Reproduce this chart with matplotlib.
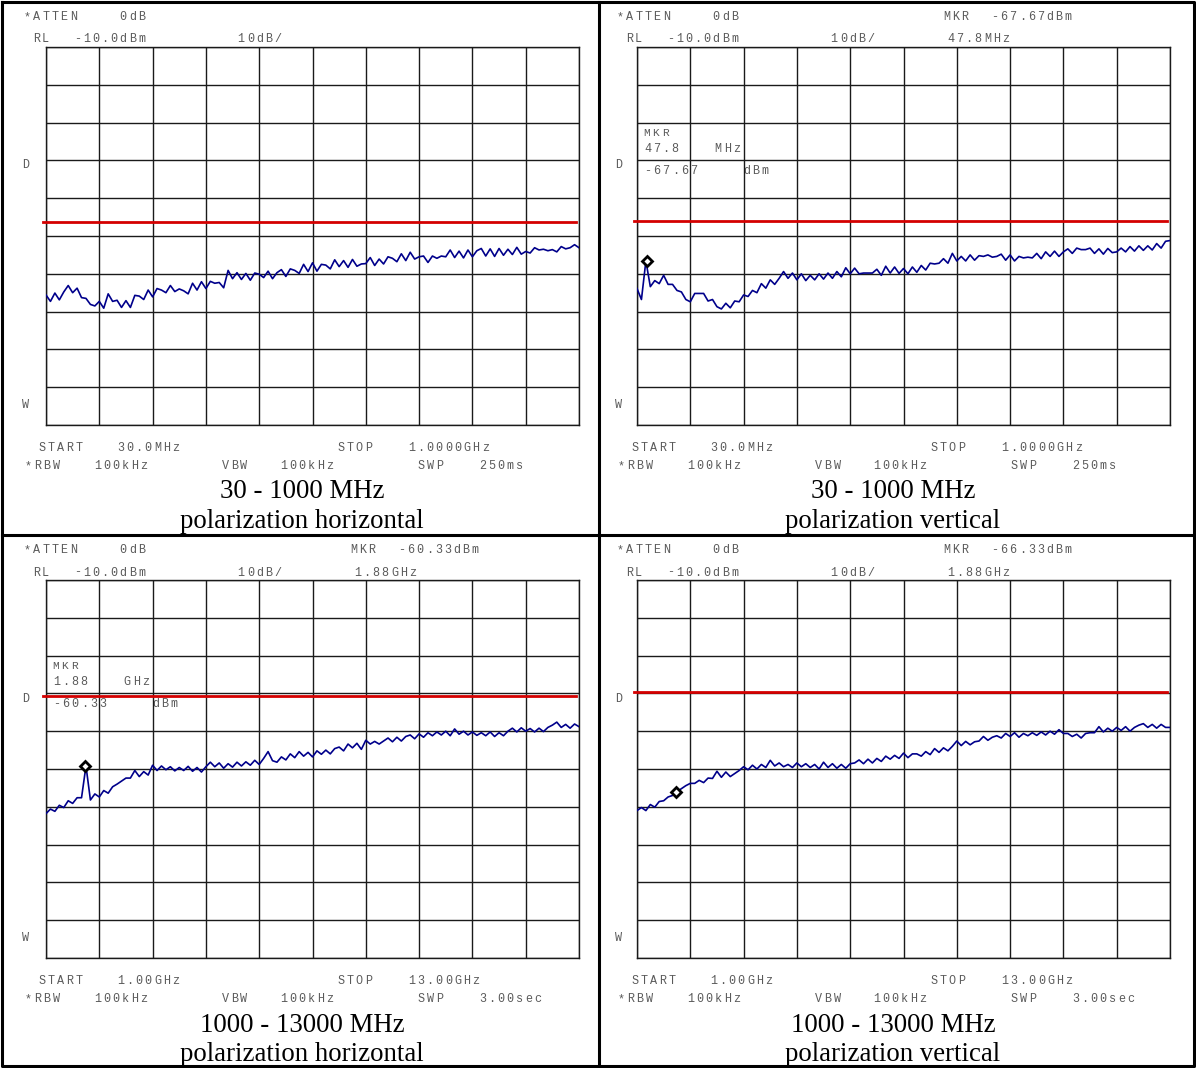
import numpy as np
import matplotlib.pyplot as plt

W, H = 1196, 1068

# sweep settings (MHz) for the four screens: TL, TR, BL, BR
starts = [30, 30, 1000, 1000]
stops = [1000, 1000, 13000, 13000]
start_txt = ["30.0MHz", "30.0MHz", "1.00GHz", "1.00GHz"]
stop_txt = ["1.0000GHz", "1.0000GHz", "13.00GHz", "13.00GHz"]
swp_txt = ["250ms", "250ms", "3.00sec", "3.00sec"]
captions = ["30 - 1000 MHz", "30 - 1000 MHz", "1000 - 13000 MHz", "1000 - 13000 MHz"]
polar = ["polarization horizontal", "polarization vertical",
         "polarization horizontal", "polarization vertical"]

# limit line level (dBm) per screen
limits = [-56.4, -56.0, -40.6, -39.7]

# measured traces (dBm), evenly spread over each sweep
trace_h_low = [
    -75.6, -77.3, -75.1, -76.9, -74.8, -73.1, -75.0, -73.8, -76.3, -76.5,
    -78.1, -78.5, -77.3, -79.1, -75.3, -77.3, -77.0, -78.9, -77.1, -78.9,
    -75.7, -75.9, -76.8, -74.3, -76.1, -73.9, -74.3, -75.0, -73.1, -74.7,
    -74.0, -74.5, -75.3, -72.5, -74.3, -72.1, -73.9, -72.0, -72.5, -72.3,
    -73.7, -69.1, -71.3, -69.7, -71.5, -69.9, -71.7, -69.8, -70.1, -71.0,
    -69.3, -71.3, -69.7, -68.9, -70.7, -68.7, -69.1, -69.9, -67.5, -69.4,
    -67.1, -69.3, -67.5, -67.7, -68.7, -66.3, -68.1, -66.5, -68.3, -66.2,
    -68.0, -67.4, -67.3, -65.7, -67.8, -66.1, -67.4, -65.5, -65.9, -66.8,
    -64.7, -66.5, -64.3, -66.1, -65.5, -65.3, -67.0, -65.3, -65.9, -65.3,
    -65.5, -63.7, -65.7, -64.0, -65.8, -63.7, -65.5, -63.9, -63.3, -65.3,
    -63.4, -65.4, -63.3, -65.1, -63.5, -64.9, -63.0, -64.8, -64.1, -64.5,
    -63.1, -63.7, -63.5, -63.9, -63.6, -64.2, -62.8, -63.4, -63.1, -62.3,
    -63.1]

trace_v_low = [
    -73.9, -76.8, -66.6, -73.4, -71.8, -72.6, -70.4, -72.8, -72.8, -74.4,
    -74.8, -76.8, -77.4, -75.2, -75.2, -75.2, -77.2, -76.8, -78.7, -79.3,
    -77.8, -79.0, -77.2, -77.4, -75.6, -76.0, -74.4, -75.0, -72.6, -73.8,
    -71.6, -72.8, -71.2, -69.4, -71.2, -69.8, -71.6, -70.0, -71.8, -70.4,
    -71.6, -70.0, -71.4, -69.8, -71.2, -69.4, -70.8, -68.4, -70.0, -68.5,
    -70.0, -69.8, -69.8, -69.8, -68.8, -70.4, -68.0, -69.8, -68.2, -69.9,
    -68.6, -70.0, -68.2, -69.6, -67.8, -69.0, -67.2, -67.4, -67.2, -66.0,
    -67.2, -64.6, -66.6, -65.4, -66.6, -65.0, -66.4, -65.2, -65.4, -65.0,
    -65.6, -65.4, -64.8, -66.4, -65.0, -66.6, -65.4, -65.8, -65.6, -65.8,
    -64.6, -66.0, -64.2, -65.4, -64.0, -65.4, -64.2, -63.4, -64.6, -63.2,
    -63.6, -63.6, -63.2, -64.6, -63.4, -64.8, -63.3, -64.4, -64.2, -63.2,
    -64.2, -62.8, -64.0, -62.6, -63.8, -62.6, -63.7, -62.0, -63.2, -61.4,
    -61.2]

trace_h_high = [
    -71.8, -70.6, -71.2, -69.6, -70.2, -68.4, -69.1, -67.6, -67.6, -59.2,
    -68.2, -66.6, -67.4, -65.7, -66.4, -64.7, -64.0, -63.2, -62.4, -62.4,
    -60.4, -62.0, -60.7, -61.6, -59.0, -60.4, -59.2, -60.2, -59.4, -60.5,
    -59.6, -60.4, -59.3, -60.6, -59.6, -60.8, -59.4, -58.2, -59.4, -58.4,
    -59.8, -58.6, -59.5, -58.2, -59.2, -58.1, -59.0, -57.7, -58.8, -57.2,
    -55.4, -57.8, -58.2, -56.8, -57.6, -56.0, -57.0, -55.4, -56.6, -55.6,
    -56.8, -55.2, -56.1, -55.0, -56.0, -54.6, -54.2, -55.2, -53.4, -54.4,
    -53.2, -54.8, -52.4, -53.4, -52.7, -53.4, -52.6, -51.8, -52.8, -51.6,
    -52.6, -51.4, -51.0, -52.0, -50.7, -51.6, -50.4, -51.2, -50.2, -51.0,
    -50.0, -51.2, -49.4, -50.8, -50.0, -51.0, -50.2, -51.1, -50.4, -51.2,
    -50.2, -51.4, -50.4, -51.2, -50.0, -49.2, -50.2, -49.1, -50.0, -49.3,
    -50.2, -49.2, -50.1, -49.0, -48.4, -47.6, -49.0, -48.2, -49.2, -48.1,
    -48.8]

trace_v_high = [
    -71.0, -70.2, -71.0, -69.4, -70.1, -68.6, -68.4, -67.4, -67.0, -66.0,
    -65.2, -64.4, -63.8, -63.8, -63.0, -63.6, -62.4, -62.5, -60.6, -62.2,
    -60.8, -62.0, -61.2, -60.4, -59.4, -60.2, -59.0, -60.0, -58.8, -59.6,
    -57.7, -59.2, -58.4, -59.4, -58.8, -59.6, -58.4, -59.4, -58.6, -59.6,
    -58.8, -60.0, -58.2, -59.6, -58.6, -59.8, -58.8, -59.8, -58.6, -58.4,
    -57.6, -58.6, -57.4, -58.4, -57.2, -58.0, -56.6, -57.4, -56.4, -57.2,
    -55.8, -57.0, -56.0, -56.0, -56.6, -55.4, -56.2, -54.6, -55.6, -54.4,
    -55.2, -54.0, -52.6, -53.8, -52.7, -53.6, -52.8, -52.6, -51.4, -52.4,
    -51.6, -51.2, -51.8, -50.6, -51.4, -50.4, -51.6, -50.6, -51.2, -50.4,
    -51.1, -50.2, -51.0, -50.0, -50.8, -49.6, -50.6, -50.6, -51.4, -50.8,
    -51.8, -50.6, -50.4, -50.4, -48.8, -50.2, -49.2, -50.0, -49.0, -49.8,
    -48.8, -50.0, -49.0, -48.4, -48.0, -49.0, -48.2, -49.2, -48.2, -49.0,
    -49.0]

traces = [trace_h_low, trace_v_low, trace_h_high, trace_v_high]

# marker (freq MHz, level dBm) and its readout, None for no marker
mkr_pos = [None, (47.8, -66.6), (1880, -59.2), (1880, -66.0)]
mkr_val = [None, "-67.67", "-60.33", "-66.33"]
mkr_freq = [None, ("47.8", "MHz"), ("1.88", "GHz"), ("1.88", "GHz")]
mkr_box = [False, True, True, False]

# panel offsets in pixels (grid, text)
grid_off = [(0, 0), (591, 0), (0, 533), (591, 533)]
text_off = [(0, 0), (593, 0), (0, 533), (593, 533)]

PITCH = 9.2
mono = dict(family="Liberation Mono", fontsize=8.5, color="#5a5a5a", va="center", ha="center")
serif = dict(family="Liberation Serif", fontsize=19.3, color="black", va="center", ha="center")

fig = plt.figure(figsize=(W / 100, H / 100), dpi=100)

# background axes in pixel coordinates for text and table lines
bg = fig.add_axes([0, 0, 1, 1])
bg.set_xlim(0, W)
bg.set_ylim(H, 0)
bg.axis("off")


def screen_text(x, y, s, size=8.5):
    # analyser font: fixed wide pitch, one cell per character
    x0 = x - 1.0
    for i, ch in enumerate(s):
        if ch != " ":
            bg.text(x0 + (i + 0.5) * PITCH, y, ch, **{**mono, "fontsize": size})


lw_border = 2.2
bg.plot([2, 1194, 1194, 2, 2], [2, 2, 1066, 1066, 2], color="black", lw=lw_border)
bg.plot([599, 599], [2, 1066], color="black", lw=lw_border)
bg.plot([2, 1194], [535, 535], color="black", lw=lw_border)

for k in range(4):
    dx, dy = text_off[k]
    gx, gy = 46 + grid_off[k][0], 47 + grid_off[k][1]

    def t(x, y, s, **kw):
        screen_text(x + dx, y + dy, s, **kw)

    t(23.7, 17, "*ATTEN")
    t(119.5, 17, "0dB")
    t(32.6, 39.5, "RL")
    t(73.6, 39.5, "-10.0dBm")
    t(237.5, 39.5, "10dB/")
    t(22, 165.5, "D")
    t(22, 405, "W")
    t(38.3, 448, "START")
    t(117, 448, start_txt[k])
    t(337, 448, "STOP")
    t(408, 448, stop_txt[k])
    t(25, 466, "*RBW")
    t(94, 466, "100kHz")
    t(222, 466, "VBW")
    t(280, 466, "100kHz")
    t(417.6, 466, "SWP")
    t(479, 466, swp_txt[k])
    if mkr_pos[k] is not None:
        t(350, 17, "MKR")
        t(398, 17, mkr_val[k] + "dBm")
        t(354, 39.5, mkr_freq[k][0] + mkr_freq[k][1])
    if mkr_box[k]:
        screen_text(gx + 6, gy + 86, "MKR", size=8)
        screen_text(gx + 7, gy + 102.3, mkr_freq[k][0])
        screen_text(gx + 77.5, gy + 102.3, mkr_freq[k][1])
        screen_text(gx + 7, gy + 124, mkr_val[k])
        screen_text(gx + 106, gy + 124, "dBm")

    bg.text(302 + grid_off[k][0], 492 + dy, captions[k], **serif)
    bg.text(302 + grid_off[k][0], 521.5 + dy, polar[k], **serif)

    # screen grid
    ax = fig.add_axes([gx / W, 1 - (gy + 378) / H, 533 / W, 378 / H])
    f0, f1 = starts[k], stops[k]
    ax.set_xlim(f0, f1)
    ax.set_ylim(-110, -10)
    ax.set_xticks(np.linspace(f0, f1, 11))
    ax.set_yticks(np.arange(-110, -9, 10))
    ax.grid(True, color="#1a1a1a", lw=1.0)
    ax.set_axisbelow(True)
    ax.patch.set_alpha(0)
    ax.tick_params(length=0, labelbottom=False, labelleft=False)
    for sp in ax.spines.values():
        sp.set_color("#1a1a1a")
        sp.set_linewidth(1.0)

    span = f1 - f0
    ax.plot([f0 - 0.005 * span, f1 - 0.005 * span], [limits[k], limits[k]],
            color="#d40000", lw=2.0, clip_on=False, zorder=3)

    freqs = np.linspace(f0, f1, len(traces[k]))
    ax.plot(freqs, traces[k], color="#00008b", lw=1.2, zorder=4)

    if mkr_pos[k] is not None:
        ax.plot(mkr_pos[k][0], mkr_pos[k][1], marker="D", ms=5.5, mfc="white",
                mec="black", mew=2.0, zorder=5)

fig.savefig("out.png", dpi=100)
